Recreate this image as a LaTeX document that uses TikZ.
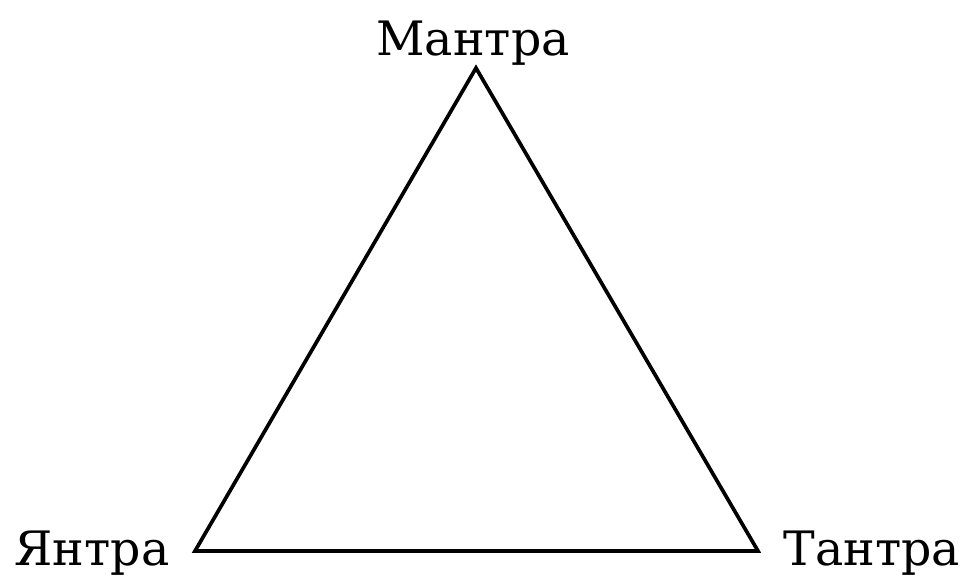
\documentclass[tikz,border=0pt]{standalone}
\usepackage{fontspec}
\setmainfont{DejaVu Serif}
\usetikzlibrary{positioning}
\tikzset{
    % vertex labels
    vertexlabel/.style={
        anchor=base,
        inner sep=0pt,
        font=\fontsize{27}{31}\selectfont
    },
    % triangle sides
    side/.style={
        line width=2.1pt,
        draw=black,
        line join=miter
    }
}
\begin{document}
\begin{tikzpicture}[x=0.02cm, y=-0.02cm]
    \useasboundingbox (0,0) rectangle (968,579);

    % Vertices
    \coordinate (apex) at (476,68);
    \coordinate (left) at (195,551);
    \coordinate (right) at (758,551);

    % Labels
    \node[vertexlabel] (mantra) at (473,55) {Мантра};
    \node[vertexlabel] (yantra) at (92,565) {Янтра};
    \node[vertexlabel] (tantra) at (872,565) {Тантра};

    % Triangle
    \draw[side] (apex) -- (left) -- (right) -- cycle;
\end{tikzpicture}
\end{document}
